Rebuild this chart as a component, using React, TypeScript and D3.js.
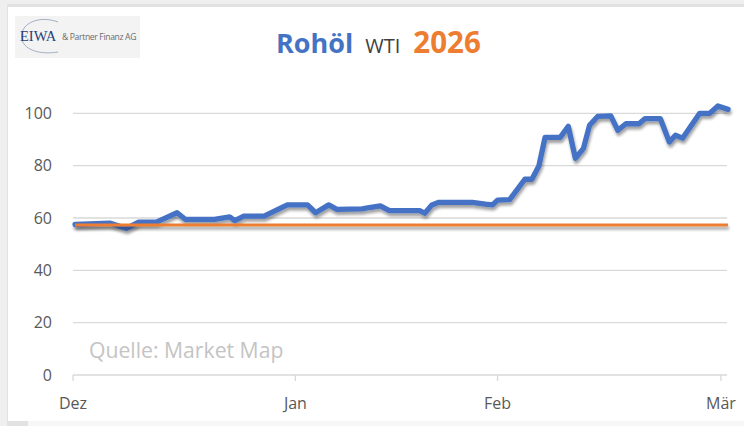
import React from "react";
import * as d3 from "d3";

// x positions are trading-day indices from the start of December
const days = [0, 3.5, 5.1, 6.3, 8.1, 10.1, 10.9, 13.8, 15.3, 15.8, 16.7, 18.7, 21, 23, 23.8, 25.1, 25.9, 28.4, 29.1, 30.2, 31.1, 34.1, 34.6, 35.3, 36, 39.3, 40.6, 41.3, 41.8, 43, 44.5, 45.2, 45.9, 46.5, 48, 48.8, 49.5, 50.3, 50.9, 51.7, 53, 53.7, 54.5, 55.8, 56.4, 57.9, 58.8, 59.4, 60.1, 61.8, 62.8, 63.6, 64.6];
const prices = [57.5, 58, 56, 58.4, 58.5, 62, 59.5, 59.5, 60.4, 59, 60.7, 60.7, 65, 65, 62, 65, 63.3, 63.5, 64, 64.6, 62.8, 62.8, 61.8, 65, 66, 66, 65.3, 65, 66.8, 67, 74.8, 74.8, 80, 90.8, 90.8, 95, 82.8, 86.6, 95.4, 98.8, 99, 93.5, 96, 96, 98, 98, 89, 91.6, 90.5, 100, 100, 102.8, 101.5];
const baseline = 57.3;
const baselineSpan = [0, 64.6];
const monthTicks = [-0.2, 21.8, 41.8, 63.9];
const monthLabels = ["Dez", "Jan", "Feb", "Mär"];
const yTicks = [0, 20, 40, 60, 80, 100];

const W = 744;
const H = 426;
const font = "'Open Sans', sans-serif";

export default function App() {
  const x = d3.scaleLinear().domain([-0.2, 64.5]).range([73, 727]);
  const y = d3.scaleLinear().domain([0, 100]).range([375, 113.3]);
  const line = d3
    .line<number>()
    .x((_, i) => x(days[i]))
    .y((d) => y(d));
  const pricePath = line(prices) || "";

  return (
    <svg
      width={W}
      height={H}
      style={{ position: "absolute", left: 0, top: 0, display: "block" }}
      xmlns="http://www.w3.org/2000/svg"
    >
      <defs>
        <filter id="sh" filterUnits="userSpaceOnUse" x={0} y={0} width={W} height={H}>
          <feGaussianBlur in="SourceAlpha" stdDeviation="1.6" />
          <feOffset dx="1" dy="2.5" result="b" />
          <feComponentTransfer>
            <feFuncA type="linear" slope="0.38" />
          </feComponentTransfer>
          <feMerge>
            <feMergeNode />
            <feMergeNode in="SourceGraphic" />
          </feMerge>
        </filter>
      </defs>
      {/* background frame */}
      <rect x={0} y={0} width={W} height={H} fill="#efefef" />
      <rect x={7} y={4} width={W - 7} height={H - 4} fill="#e2e2e2" />
      <rect x={8} y={7} width={W - 8} height={414} fill="#ffffff" />
      <rect x={28} y={421} width={W - 28} height={5} fill="#f7f7f7" />

      {/* logo */}
      <rect x={15} y={16} width={125} height={42} fill="#f3f3f3" />
      <path
        d="M 58 22 C 36 14, 18 26, 22 40 C 25 50, 40 55, 58 52"
        fill="none"
        stroke="#9aa7bd"
        strokeWidth={0.9}
      />
      <text x={20} y={41} fontFamily="'Liberation Serif', serif" fontSize={14.5} fill="#24407a">
        EIWA
      </text>
      <text x={62} y={40} fontFamily={font} fontSize={8.6} fill="#6b6b6b" letterSpacing={-0.35}>
        & Partner Finanz AG
      </text>

      {/* title */}
      <text x={276} y={53} fontFamily={font}>
        <tspan fontSize={27} fontWeight={700} fill="#4472C4">Rohöl</tspan>
        <tspan dx={12} fontSize={20} fill="#404040">WTI</tspan>
        <tspan dx={13} fontSize={29.5} fontWeight={700} fill="#ED7D31">2026</tspan>
      </text>

      {/* gridlines */}
      {yTicks.map((t) => (
        <line
          key={t}
          x1={73}
          x2={727}
          y1={y(t)}
          y2={y(t)}
          stroke="#d9d9d9"
          strokeWidth={1.3}
        />
      ))}
      {monthTicks.map((t, i) => (
        <line key={i} x1={x(t)} x2={x(t)} y1={y(0)} y2={y(0) + 6} stroke="#d9d9d9" strokeWidth={1.3} />
      ))}
      {yTicks.map((t) => (
        <text
          key={t}
          x={52}
          y={y(t)}
          dy="0.35em"
          textAnchor="end"
          fontFamily={font}
          fontSize={16}
          fill="#595959"
        >
          {t}
        </text>
      ))}
      {monthTicks.map((t, i) => (
        <text
          key={i}
          x={x(t)}
          y={409}
          textAnchor="middle"
          fontFamily={font}
          fontSize={16}
          fill="#595959"
        >
          {monthLabels[i]}
        </text>
      ))}

      {/* source */}
      <text x={89} y={358} fontFamily={font} fontSize={21.2} fill="#c4c4c4">
        Quelle: Market Map
      </text>

      {/* series */}
      <path
        d={pricePath}
        fill="none"
        stroke="#4472C4"
        strokeWidth={5.3}
        strokeLinejoin="round"
        strokeLinecap="round"
        filter="url(#sh)"
      />
      <line
        x1={x(baselineSpan[0])}
        x2={x(baselineSpan[1])}
        y1={y(baseline)}
        y2={y(baseline)}
        stroke="#ED7D31"
        strokeWidth={3}
        filter="url(#sh)"
      />
    </svg>
  );
}
